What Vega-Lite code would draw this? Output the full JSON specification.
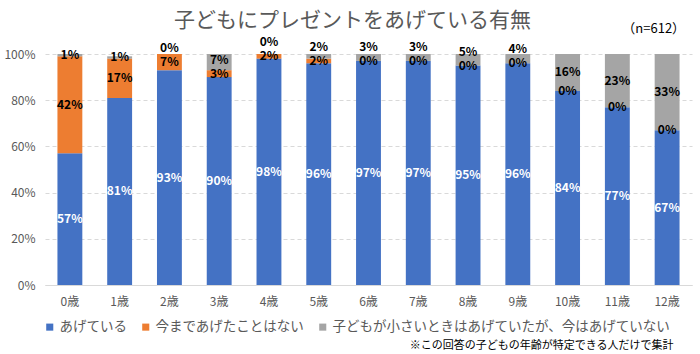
{
  "$schema": "https://vega.github.io/schema/vega-lite/v6.json",
  "width": 647,
  "height": 231,
  "autosize": {"type": "none"},
  "padding": {"left": 45, "top": 54, "right": 8, "bottom": 69},
  "background": "white",
  "title": {
    "text": "子どもにプレゼントをあげている有無",
    "fontSize": 21,
    "fontWeight": "normal",
    "color": "#595959",
    "anchor": "middle",
    "frame": "group",
    "baseline": "bottom",
    "dx": -16,
    "offset": -29
  },
  "config": {
    "view": {"stroke": null},
    "font": "Noto Sans CJK JP"
  },
  "datasets": {
    "main": [
      {"age": "0歳", "series": "あげている", "value": 57},
      {"age": "0歳", "series": "今まであげたことはない", "value": 42},
      {"age": "0歳", "series": "子どもが小さいときはあげていたが、今はあげていない", "value": 1},
      {"age": "1歳", "series": "あげている", "value": 81},
      {"age": "1歳", "series": "今まであげたことはない", "value": 17},
      {"age": "1歳", "series": "子どもが小さいときはあげていたが、今はあげていない", "value": 1},
      {"age": "2歳", "series": "あげている", "value": 93},
      {"age": "2歳", "series": "今まであげたことはない", "value": 7},
      {"age": "2歳", "series": "子どもが小さいときはあげていたが、今はあげていない", "value": 0},
      {"age": "3歳", "series": "あげている", "value": 90},
      {"age": "3歳", "series": "今まであげたことはない", "value": 3},
      {"age": "3歳", "series": "子どもが小さいときはあげていたが、今はあげていない", "value": 7},
      {"age": "4歳", "series": "あげている", "value": 98},
      {"age": "4歳", "series": "今まであげたことはない", "value": 2},
      {"age": "4歳", "series": "子どもが小さいときはあげていたが、今はあげていない", "value": 0},
      {"age": "5歳", "series": "あげている", "value": 96},
      {"age": "5歳", "series": "今まであげたことはない", "value": 2},
      {"age": "5歳", "series": "子どもが小さいときはあげていたが、今はあげていない", "value": 2},
      {"age": "6歳", "series": "あげている", "value": 97},
      {"age": "6歳", "series": "今まであげたことはない", "value": 0},
      {"age": "6歳", "series": "子どもが小さいときはあげていたが、今はあげていない", "value": 3},
      {"age": "7歳", "series": "あげている", "value": 97},
      {"age": "7歳", "series": "今まであげたことはない", "value": 0},
      {"age": "7歳", "series": "子どもが小さいときはあげていたが、今はあげていない", "value": 3},
      {"age": "8歳", "series": "あげている", "value": 95},
      {"age": "8歳", "series": "今まであげたことはない", "value": 0},
      {"age": "8歳", "series": "子どもが小さいときはあげていたが、今はあげていない", "value": 5},
      {"age": "9歳", "series": "あげている", "value": 96},
      {"age": "9歳", "series": "今まであげたことはない", "value": 0},
      {"age": "9歳", "series": "子どもが小さいときはあげていたが、今はあげていない", "value": 4},
      {"age": "10歳", "series": "あげている", "value": 84},
      {"age": "10歳", "series": "今まであげたことはない", "value": 0},
      {"age": "10歳", "series": "子どもが小さいときはあげていたが、今はあげていない", "value": 16},
      {"age": "11歳", "series": "あげている", "value": 77},
      {"age": "11歳", "series": "今まであげたことはない", "value": 0},
      {"age": "11歳", "series": "子どもが小さいときはあげていたが、今はあげていない", "value": 23},
      {"age": "12歳", "series": "あげている", "value": 67},
      {"age": "12歳", "series": "今まであげたことはない", "value": 0},
      {"age": "12歳", "series": "子どもが小さいときはあげていたが、今はあげていない", "value": 33}
    ]
  },
  "layer": [
    {
      "data": {"name": "main"},
      "transform": [
        {"calculate": "indexof(['あげている','今まであげたことはない','子どもが小さいときはあげていたが、今はあげていない'], datum.series)", "as": "k"}
      ],
      "mark": {"type": "bar"},
      "encoding": {
        "x": {
          "field": "age",
          "type": "nominal",
          "sort": ["0歳","1歳","2歳","3歳","4歳","5歳","6歳","7歳","8歳","9歳","10歳","11歳","12歳"],
          "scale": {"paddingInner": 0.5, "paddingOuter": 0.25},
          "axis": {
            "labelAngle": 0,
            "ticks": false,
            "domainColor": "#D9D9D9",
            "labelColor": "#595959",
            "labelFontSize": 12,
            "labelPadding": 11,
            "title": "※この回答の子どもの年齢が特定できる人だけで集計",
            "titleFontSize": 11,
            "titleFontWeight": "normal",
            "titleColor": "#000000",
            "titleAlign": "right",
            "titleBaseline": "middle",
            "titleX": 628,
            "titleY": 60
          }
        },
        "y": {
          "field": "value",
          "type": "quantitative",
          "stack": "zero",
          "scale": {"domain": [0, 100]},
          "axis": {
            "values": [0, 20, 40, 60, 80, 100],
            "labelExpr": "datum.value + '%'",
            "title": null,
            "domain": false,
            "ticks": false,
            "labelColor": "#595959",
            "labelFontSize": 12,
            "labelPadding": 10,
            "gridColor": "#D9D9D9",
            "gridDash": [4, 3]
          }
        },
        "color": {
          "field": "series",
          "type": "nominal",
          "scale": {
            "domain": ["あげている","今まであげたことはない","子どもが小さいときはあげていたが、今はあげていない"],
            "range": ["#4472C4", "#ED7D31", "#A5A5A5"]
          },
          "legend": {
            "orient": "none",
            "direction": "horizontal",
            "legendX": -2,
            "legendY": 266,
            "title": null,
            "symbolType": "square",
            "symbolSize": 50,
            "symbolStrokeWidth": 0,
            "labelFontSize": 13.5,
            "labelColor": "#595959",
            "labelOffset": 3,
            "columnPadding": 12,
            "labelLimit": 400
          }
        },
        "order": {"field": "k", "type": "quantitative"}
      }
    },
    {
      "data": {"name": "main"},
      "transform": [
        {"calculate": "indexof(['あげている','今まであげたことはない','子どもが小さいときはあげていたが、今はあげていない'], datum.series)", "as": "k"},
        {"stack": "value", "groupby": ["age"], "sort": [{"field": "k", "order": "ascending"}], "as": ["y0", "y1"]},
        {"calculate": "(datum.y0 + datum.y1) / 2", "as": "mid"},
        {"calculate": "datum.k == 1 ? datum.mid : null", "as": "om"},
        {"joinaggregate": [{"op": "max", "field": "om", "as": "omid"}], "groupby": ["age"]},
        {"calculate": "datum.k == 2 ? max(datum.mid, datum.omid + 6) : datum.mid", "as": "ly"},
        {"calculate": "datum.value + '%'", "as": "lab"}
      ],
      "mark": {"type": "text", "fontSize": 12, "fontWeight": "bold", "baseline": "middle", "align": "center"},
      "encoding": {
        "x": {
          "field": "age",
          "type": "nominal",
          "sort": ["0歳","1歳","2歳","3歳","4歳","5歳","6歳","7歳","8歳","9歳","10歳","11歳","12歳"]
        },
        "y": {"field": "ly", "type": "quantitative", "stack": null},
        "text": {"field": "lab", "type": "nominal"},
        "color": {
          "condition": {"test": "datum.k == 0", "value": "#FFFFFF"},
          "value": "#000000"
        }
      }
    },
    {
      "data": {"values": [{"t": "（n=612）"}]},
      "mark": {"type": "text", "fontSize": 13, "align": "right", "baseline": "middle", "dx": 18, "dy": -25, "color": "#000000"},
      "encoding": {
        "x": {"datum": "12歳", "type": "nominal"},
        "y": {"datum": 100, "type": "quantitative"},
        "text": {"field": "t", "type": "nominal"}
      }
    }
  ]
}
